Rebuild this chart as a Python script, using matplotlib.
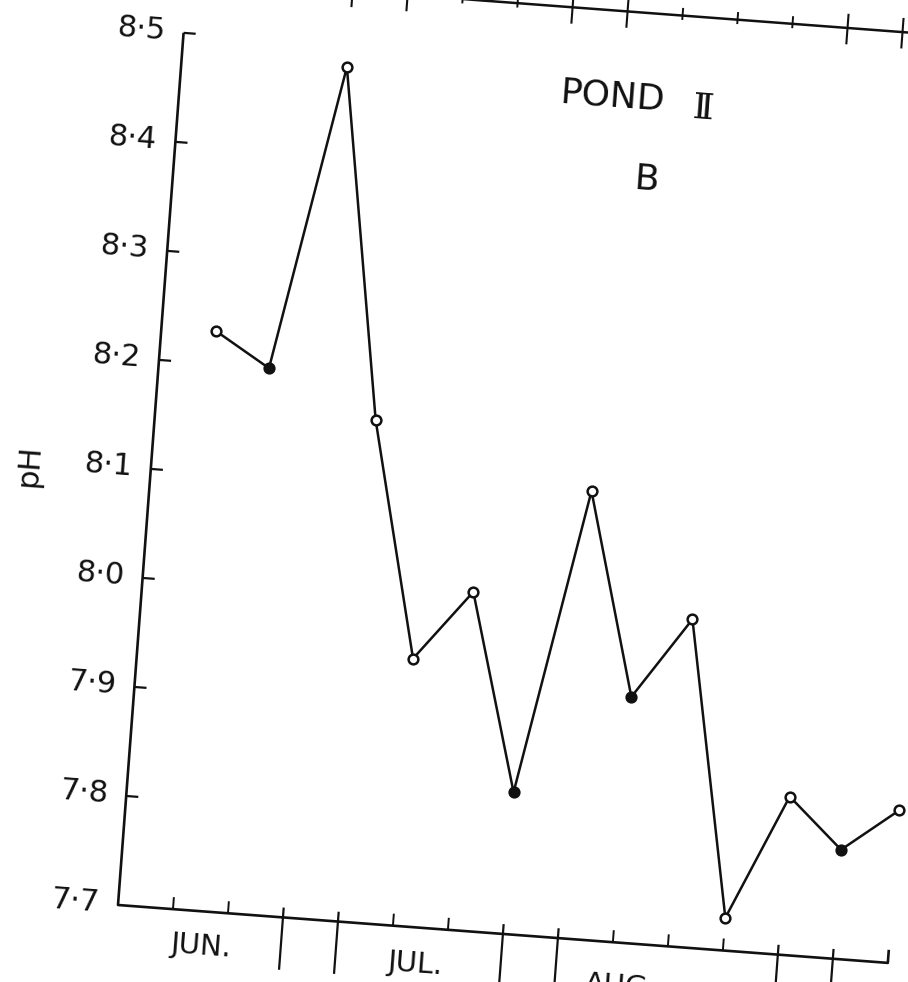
import matplotlib
matplotlib.use("Agg")
import matplotlib.pyplot as plt
from matplotlib.transforms import Affine2D

# weekly pH readings, pond II (B), June - August
weeks = list(range(1, 15))
ph = [8.23, 8.20, 8.48, 8.16, 7.945, 8.01, 7.83, 8.11, 7.925, 8.00, 7.73, 7.845, 7.80, 7.84]
filled = [False, True, False, False, False, False, True, False, True, False, False, False, True, False]

ph_ticks = [7.7, 7.8, 7.9, 8.0, 8.1, 8.2, 8.3, 8.4, 8.5]
ph_labels = ["7·7", "7·8", "7·9", "8·0", "8·1", "8·2", "8·3", "8·4", "8·5"]

months = ["JUN.", "JUL.", "AUG."]
month_x = [1.55, 5.45, 9.2]
month_drop = [0.032, 0.034, 0.040]
month_breaks = [3, 4, 7, 8, 12, 13]
x_end = 14

INK = "#111111"
TILT = -4.3

fig = plt.figure(figsize=(9.08, 9.82), dpi=100)
ax = fig.add_axes([118 / 908, 77 / 982, 772 / 908, 874.6 / 982])
ax.set_xlim(0, x_end)
ax.set_ylim(ph_ticks[0], ph_ticks[-1])
ax.axis("off")

# the whole sheet sits slightly skewed, so every element goes through a rotated transform
ox, oy = ax.transData.transform((0, ph_ticks[0]))
tr = ax.transData + Affine2D().rotate_deg_around(ox, oy, TILT)

y0 = ph_ticks[0]
kw = dict(color=INK, transform=tr, clip_on=False, solid_capstyle="butt")


def label(x, y, s, size, angle=0, **extra):
    ax.text(x, y, s, fontsize=size, color=INK, rotation=angle + TILT,
            rotation_mode="anchor", transform=tr, **extra)


# frame: y axis, x axis and the small upturn at the right end
ax.plot([0, 0, x_end, x_end], [ph_ticks[-1], y0, y0, y0 + 0.012], lw=1.9, **kw)

# pH ticks and labels
for t, lab in zip(ph_ticks, ph_labels):
    if t > y0:
        ax.plot([0, 0.22], [t, t], lw=1.6, **kw)
    label(-0.33, t, lab, 22, ha="right", va="center")

# week ticks; month boundaries are long double strokes through the axis
for w in weeks[:-1]:
    if w in month_breaks:
        ax.plot([w, w], [y0 + 0.009, y0 - 0.048], lw=1.6, **kw)
    else:
        ax.plot([w, w], [y0, y0 + 0.011], lw=1.4, **kw)

for name, mx, dy in zip(months, month_x, month_drop):
    label(mx, y0 - dy, name, 21, ha="center", va="center")

# bottom axis of the panel above
y_top = 8.55
ax.plot([-3, x_end + 2], [y_top, y_top], lw=1.8, **kw)
for w in weeks:
    if w in month_breaks:
        ax.plot([w, w], [y_top + 0.013, y_top - 0.015], lw=1.5, **kw)
    else:
        ax.plot([w, w], [y_top - 0.004, y_top + 0.007], lw=1.4, **kw)

# pH series
ax.plot(weeks, ph, lw=1.8, color=INK, transform=tr, clip_on=False, zorder=3)
for w, v, f in zip(weeks, ph, filled):
    ax.plot(w, v, marker="o", ms=7, mew=1.8, mec=INK, mfc=INK if f else "white",
            transform=tr, clip_on=False, zorder=4)

label(-2.2, 8.095, "pH", 22, angle=90, ha="center", va="center")
label(7.85, 8.471, "POND", 26, ha="center", va="center")
label(9.5, 8.466, "Ⅱ", 26, ha="center", va="center", family="DejaVu Serif")
label(8.58, 8.398, "B", 26, ha="center", va="center")

fig.savefig("out.png", dpi=100, facecolor="white")
